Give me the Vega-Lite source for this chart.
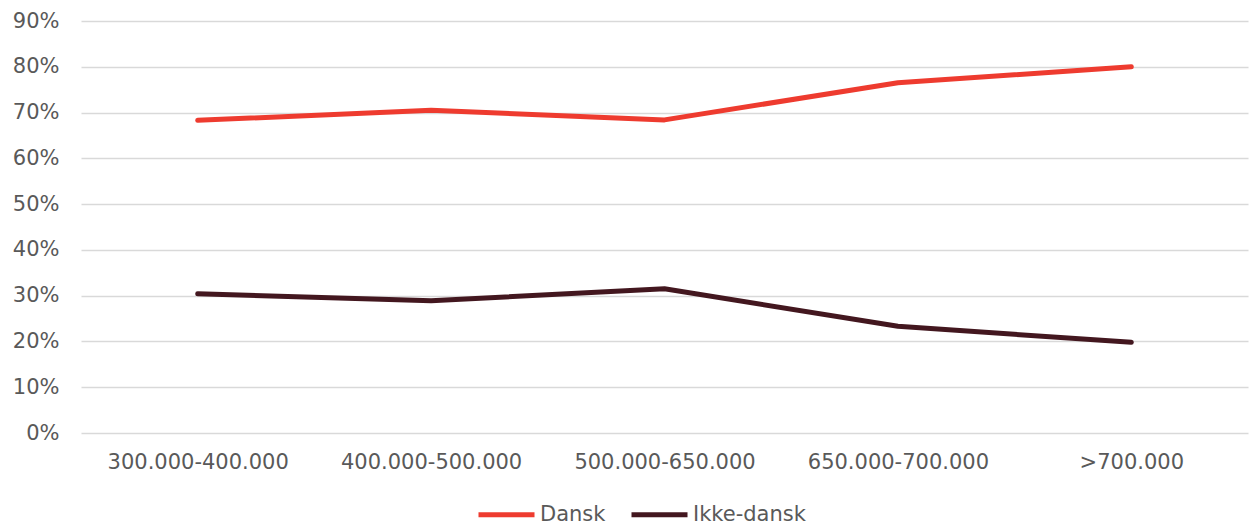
{
  "$schema": "https://vega.github.io/schema/vega-lite/v6.json",
  "width": 1167,
  "height": 412,
  "autosize": {"type": "none"},
  "padding": {"left": 81, "top": 21, "right": 1, "bottom": 93},
  "background": "white",
  "config": {
    "view": {"stroke": null},
    "font": "DejaVu Sans",
    "axis": {"labelFont": "DejaVu Sans", "labelColor": "#595959", "labelFontSize": 21, "labelLimit": 0},
    "legend": {"labelFont": "DejaVu Sans", "labelColor": "#595959", "labelFontSize": 21, "labelLimit": 0}
  },
  "data": {
    "values": [
      {"interval": "300.000-400.000", "group": "Dansk", "share": 0.683},
      {"interval": "400.000-500.000", "group": "Dansk", "share": 0.705},
      {"interval": "500.000-650.000", "group": "Dansk", "share": 0.684},
      {"interval": "650.000-700.000", "group": "Dansk", "share": 0.765},
      {"interval": ">700.000", "group": "Dansk", "share": 0.800},
      {"interval": "300.000-400.000", "group": "Ikke-dansk", "share": 0.304},
      {"interval": "400.000-500.000", "group": "Ikke-dansk", "share": 0.289},
      {"interval": "500.000-650.000", "group": "Ikke-dansk", "share": 0.315},
      {"interval": "650.000-700.000", "group": "Ikke-dansk", "share": 0.233},
      {"interval": ">700.000", "group": "Ikke-dansk", "share": 0.198}
    ]
  },
  "mark": {"type": "line", "strokeWidth": 5, "strokeCap": "round", "strokeJoin": "round"},
  "encoding": {
    "x": {
      "field": "interval",
      "type": "nominal",
      "sort": ["300.000-400.000", "400.000-500.000", "500.000-650.000", "650.000-700.000", ">700.000"],
      "scale": {"type": "point", "padding": 0.5},
      "axis": {"title": null, "labelAngle": 0, "ticks": false, "domain": false, "grid": false, "labelPadding": 18}
    },
    "y": {
      "field": "share",
      "type": "quantitative",
      "scale": {"domain": [0, 0.9], "nice": false},
      "axis": {
        "title": null,
        "format": ".0%",
        "values": [0, 0.1, 0.2, 0.3, 0.4, 0.5, 0.6, 0.7, 0.8, 0.9],
        "ticks": false,
        "domain": false,
        "labelPadding": 22,
        "gridColor": "#d9d9d9",
        "gridWidth": 1.5
      }
    },
    "color": {
      "field": "group",
      "type": "nominal",
      "scale": {"domain": ["Dansk", "Ikke-dansk"], "range": ["#ee3b2f", "#43171f"]},
      "legend": {
        "title": null,
        "orient": "none",
        "direction": "horizontal",
        "legendX": 395,
        "legendY": 463,
        "symbolType": "stroke",
        "symbolSize": 3136,
        "symbolStrokeWidth": 5,
        "labelOffset": 3,
        "columnPadding": 15
      }
    }
  }
}
